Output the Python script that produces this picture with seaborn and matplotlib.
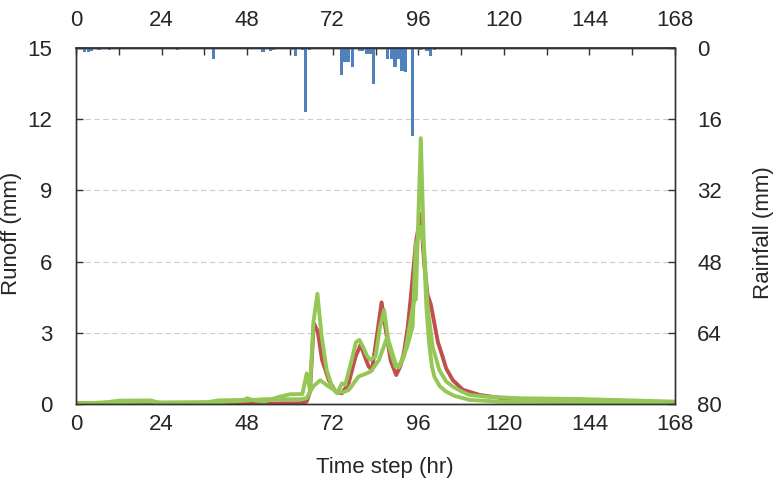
import numpy as np
import pandas as pd
import seaborn as sns
import matplotlib.pyplot as plt
from matplotlib.ticker import MultipleLocator

# Chuva horária (mm), início de cada hora
chuva_hora = [2, 3, 4, 6, 7, 9, 28, 38, 52, 54, 55, 60, 61, 63, 64, 65,
              74, 75, 76, 77, 79, 80, 81, 82, 83, 87, 88, 89, 90, 91, 92, 94, 96,
              98, 99, 100, 101, 138]
chuva_mm = [0.8, 0.9, 0.7, 0.4, 0.3, 0.5, 0.4, 2.4, 0.9, 0.6, 0.4, 0.4, 1.8, 0.5, 14.4, 0.5,
            6.0, 3.1, 3.1, 4.3, 0.7, 0.7, 1.3, 1.3, 8.1, 2.5, 2.5, 4.3, 2.5, 5.2, 5.4, 19.8, 0.5,
            0.7, 1.8, 0.5, 0.3, 0.3]

# Vazão observada (vermelho)
obs_hora = [0, 2, 10, 30, 50, 63, 64.7, 65.6, 66.7, 67.8, 69.0, 70.9, 72.8, 74.6, 76.5, 78.4,
            79.8, 81.0, 82.0, 83.0, 84.5, 85.7, 87.0, 88.3, 89.8, 91.0, 92.0, 93.0, 93.9, 95.3,
            96.7, 97.6, 98.6, 99.5, 100.5, 101.5, 102.8, 103.8, 105.7, 108.5, 113.2, 119.8,
            125.4, 140, 168]
obs_q = [0.05, 0.03, 0.02, 0.02, 0.02, 0.03, 0.1, 0.5, 3.4, 3.05, 1.86, 1.0, 0.52, 0.45, 0.9, 2.0,
         2.49, 2.0, 1.6, 1.43, 3.0, 4.28, 3.0, 1.8, 1.22, 1.6, 2.2, 3.2, 4.5, 6.8,
         8.0, 6.0, 4.6, 4.2, 3.4, 2.6, 2.0, 1.5, 1.0, 0.6, 0.38, 0.24,
         0.17, 0.1, 0.05]

# Simulação 1 (verde, pico mais alto)
sim1_hora = [0, 8, 12, 21, 23, 37, 40, 47, 48, 50, 52.7, 56.5, 60, 63.5, 64.7, 65.6, 66.6, 67.7,
             68.9, 70.3, 71.8, 73.2, 74.6, 75.5, 77.4, 78.5, 79.5, 80.5, 81.7, 82.6, 84.0, 85.2,
             86.4, 87.8, 89.6, 90.6, 92.0, 92.9, 94.8, 95.3, 96.7, 97.6, 98.3, 99.0, 99.8,
             100.5, 102.0, 103.8, 106.0, 110.4, 118.8, 140, 168]
sim1_q = [0.02, 0.06, 0.14, 0.15, 0.06, 0.08, 0.15, 0.17, 0.24, 0.15, 0.1, 0.28, 0.41, 0.42, 1.29, 0.6,
          3.47, 4.64, 2.84, 1.43, 0.73, 0.45, 0.87, 0.8, 1.9, 2.6, 2.7, 2.4, 2.0, 1.86, 2.0, 3.2,
          3.96, 2.42, 1.57, 1.55, 2.0, 2.7, 4.38, 4.4, 11.2, 6.4, 4.0, 2.6, 1.6,
          1.15, 0.75, 0.52, 0.35, 0.17, 0.1, 0.08, 0.07]

# Simulação 2 (verde, mais suave)
sim2_hora = [0, 12, 21, 24, 37, 45, 48, 52.7, 63, 64.7, 65.6, 66.6, 68.5, 70.9, 73.2, 75.0, 76.5,
             79.2, 82.6, 85.0, 87.3, 89.6, 90.6, 92.9, 94.4, 95.3, 95.8, 96.7, 97.6, 98.6, 100.0,
             101.9, 103.8, 105.7, 108.5, 110.4, 115.0, 124.5, 141.0, 168]
sim2_q = [0.02, 0.08, 0.1, 0.05, 0.05, 0.12, 0.15, 0.2, 0.2, 0.25, 0.5, 0.75, 1.0, 0.73, 0.52, 0.5, 0.59,
          1.15, 1.36, 1.86, 2.84, 1.71, 1.57, 2.42, 3.26, 6.77, 6.91, 7.47, 6.63, 4.1, 2.42,
          1.43, 0.95, 0.73, 0.5, 0.38, 0.31, 0.24, 0.21, 0.1]

df = pd.concat([
    pd.DataFrame({'hora': obs_hora, 'vazao': obs_q, 'serie': 'Observado'}),
    pd.DataFrame({'hora': sim1_hora, 'vazao': sim1_q, 'serie': 'Sim 1'}),
    pd.DataFrame({'hora': sim2_hora, 'vazao': sim2_q, 'serie': 'Sim 2'}),
], ignore_index=True)

sns.set_theme(style='white')
plt.rcParams['font.family'] = ['Liberation Sans', 'DejaVu Sans']
fs = 16

fig = plt.figure(figsize=(7.83, 4.96), dpi=100)
ax = fig.add_axes([0.0971, 0.1855, 0.765, 0.7177])

sns.lineplot(data=df, x='hora', y='vazao', hue='serie', estimator=None,
             palette={'Observado': '#c0504d', 'Sim 1': '#94c756', 'Sim 2': '#94c756'},
             linewidth=2.8, legend=False, ax=ax)

ax.set_xlim(0, 168)
ax.set_ylim(0, 15)
ax.set_xticks(range(0, 169, 24))
ax.xaxis.set_minor_locator(MultipleLocator(12))
ax.set_yticks(range(0, 16, 3))
ax.yaxis.grid(True, linestyle=(0, (5, 3)), color='#cccccc', linewidth=0.8)
ax.set_xlabel('')
ax.set_ylabel('')
ax.tick_params(axis='x', which='both', direction='in', length=5, width=1, color='#333333',
               labelsize=fs, pad=7, top=False)
ax.tick_params(axis='y', direction='in', length=5, width=1, color='#333333', labelsize=fs, pad=17)

# Eixo de cima com as mesmas horas
sec = ax.secondary_xaxis('top')
sec.set_xticks(range(0, 169, 24))
sec.xaxis.set_minor_locator(MultipleLocator(12))
sec.tick_params(which='both', direction='in', length=5, width=1, color='#333333',
                labelsize=fs, pad=12)

# Chuva no eixo da direita, invertido
ax2 = ax.twinx()
ax2.bar(chuva_hora, chuva_mm, width=0.9, align='edge', color='#4f81bd', linewidth=0)
ax2.set_ylim(80, 0)
ax2.set_yticks(range(0, 81, 16))
ax2.tick_params(axis='y', direction='in', length=5, width=1, color='#333333', labelsize=fs, pad=16)

for a in [ax, ax2]:
    for s in a.spines.values():
        s.set_color('#333333')
        s.set_linewidth(1)
for s in sec.spines.values():
    s.set_color('#333333')

fig.text(0.491, 0.058, 'Time step (hr)', ha='center', va='center', fontsize=fs)
fig.text(0.015, 0.53, 'Runoff (mm)', rotation=90, ha='center', va='center', fontsize=fs)
fig.text(0.9745, 0.53, 'Rainfall (mm)', rotation=90, ha='center', va='center', fontsize=fs)

fig.savefig('out.png', dpi=100)
